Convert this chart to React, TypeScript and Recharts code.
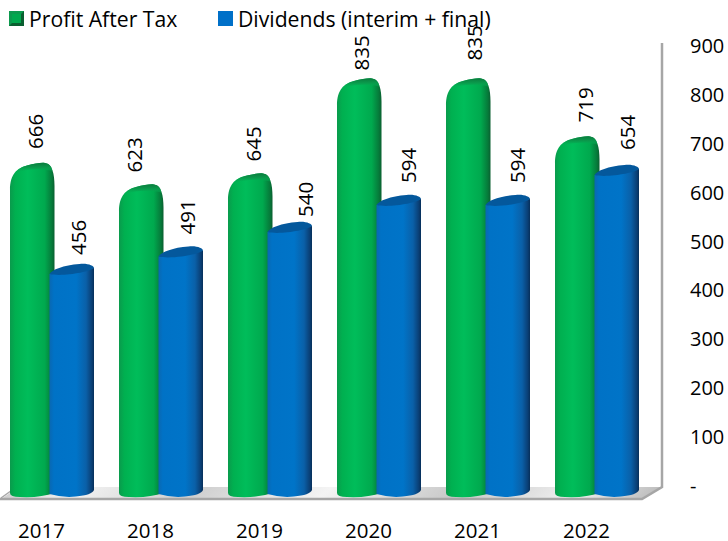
import React from "react";
import { BarChart, Bar, XAxis, YAxis, Legend, LabelList, usePlotArea } from "recharts";

const years = ["2017", "2018", "2019", "2020", "2021", "2022"];
const profit = [666, 623, 645, 835, 835, 719];
const dividends = [456, 491, 540, 594, 594, 654];
const yTicks = [0, 100, 200, 300, 400, 500, 600, 700, 800, 900];
const profitName = "Profit After Tax";
const dividendsName = "Dividends (interim + final)";
const profitLabelGap = [15, 13, 13, 9, 19, 15];
const dividendLabelGap = [14, 17, 10, 17, 17, 20];
const profitLabelShift = [3, -7, 3, 2, 6, 8];
const dividendLabelShift = [6, 6, 15, 9, 9, 10];

const rows = years.map((year, i) => ({ year, profit: profit[i], dividends: dividends[i] }));
const FONT = "'Open Sans', Lato, sans-serif";

function Defs() {
  return (
    <defs>
      <linearGradient id="gSide" x1="0" x2="1" y1="0" y2="0">
        <stop offset="0" stopColor="#0a9a4c" />
        <stop offset="0.12" stopColor="#00b050" />
        <stop offset="0.4" stopColor="#00bd5a" />
        <stop offset="0.78" stopColor="#00a94e" />
        <stop offset="0.94" stopColor="#067a3a" />
        <stop offset="1" stopColor="#0a5f30" />
      </linearGradient>
      <linearGradient id="gTop" x1="0" x2="0" y1="0" y2="1">
        <stop offset="0" stopColor="#0b7c3e" />
        <stop offset="0.45" stopColor="#0a9a4c" />
        <stop offset="1" stopColor="#00b856" stopOpacity="0" />
      </linearGradient>
      <linearGradient id="bSide" x1="0" x2="1" y1="0" y2="0">
        <stop offset="0" stopColor="#0a68b2" />
        <stop offset="0.1" stopColor="#0072c6" />
        <stop offset="0.6" stopColor="#0074c8" />
        <stop offset="0.82" stopColor="#0a60a8" />
        <stop offset="0.95" stopColor="#0a3f75" />
        <stop offset="1" stopColor="#062f5a" />
      </linearGradient>
      <linearGradient id="floorG" x1="0" x2="1" y1="0" y2="0.02">
        <stop offset="0" stopColor="#c9c9c9" />
        <stop offset="0.12" stopColor="#f2f2f2" />
        <stop offset="0.3" stopColor="#cfcfcf" />
        <stop offset="0.5" stopColor="#f4f4f4" />
        <stop offset="0.7" stopColor="#c8c8c8" />
        <stop offset="0.88" stopColor="#f0f0f0" />
        <stop offset="1" stopColor="#bdbdbd" />
      </linearGradient>
    </defs>
  );
}

function Floor() {
  const plot = usePlotArea();
  if (!plot) return null;
  const back = plot.y + plot.height - 10;
  const front = plot.y + plot.height + 2;
  const right = plot.x + plot.width + 11;
  const frontRight = right - 20;
  const left = plot.x;
  return (
    <g>
      <polygon
        points={`${left + 4},${front} ${frontRight},${front} ${right},${back} ${left + 22},${back}`}
        fill="url(#floorG)"
      />
      <polyline points={`${left},${front} ${frontRight},${front} ${right},${back} ${right},${plot.y - 4}`} fill="none" stroke="#a6a6a6" strokeWidth={2.5} />
      <line x1={left + 4} y1={front - 1} x2={left + 18} y2={back + 1} stroke="#a6a6a6" strokeWidth={1.5} />
    </g>
  );
}

function GreenBar(props: any) {
  const { x, y, width, height } = props;
  const b = y + height;
  const r = x + width;
  const outline = `M${x},${b - 4} L${x},${y + 26} C${x},${y + 10} ${x + 7},${y + 4} ${x + 17},${y + 1.5}
    C${x + 25},${y - 0.5} ${x + 31},${y - 1.5} ${x + 35},${y - 1} C${r - 2},${y} ${r},${y + 10} ${r},${y + 22}
    L${r},${b - 4} Q${x + 30},${b + 1} ${x + 10},${b} Q${x},${b} ${x},${b - 4} Z`;
  const cap = `M${x + 5},${y + 9} C${x + 8},${y + 5} ${x + 12},${y + 3} ${x + 17},${y + 1.5} C${x + 25},${y - 0.5} ${x + 31},${y - 1.5} ${x + 35},${y - 1}
    C${r - 4},${y} ${r - 3},${y + 3} ${r - 2},${y + 7} C${x + 30},${y + 4} ${x + 15},${y + 5} ${x + 5},${y + 9} Z`;
  return (
    <g>
      <path d={outline} fill="url(#gSide)" />
      <path d={cap} fill="url(#gTop)" />
    </g>
  );
}

function BlueBar(props: any) {
  const { x, y, width, height } = props;
  const b = y + height;
  const r = x + width;
  const mid = x + width / 2;
  const body = `M${x},${y + 5} L${x},${b - 3} Q${mid - 8},${b + 1} ${mid + 4},${b - 0.5} Q${r - 2},${b - 2} ${r},${b - 7} L${r},${y - 1} Z`;
  const top = `M${x},${y + 5} C${x + 2},${y + 1} ${x + 14},${y - 4} ${x + 30},${y - 5} C${r - 6},${y - 6} ${r},${y - 3} ${r},${y - 1}
    C${r - 4},${y + 3} ${x + 12},${y + 8} ${x},${y + 5} Z`;
  return (
    <g>
      <path d={body} fill="url(#bSide)" />
      <path d={top} fill="#04589c" />
    </g>
  );
}

const rotatedLabel = (gaps: number[], shifts: number[]) => (props: any) => {
  const { x, y, width, index, value } = props;
  const cx = x + width / 2 + shifts[index];
  const by = y - gaps[index];
  return (
    <text
      x={cx}
      y={by}
      transform={`rotate(-90 ${cx} ${by})`}
      dominantBaseline="central"
      textAnchor="start"
      fontFamily={FONT}
      fontSize={20.5}
      fill="#000"
    >
      {value}
    </text>
  );
};

function LegendBox() {
  const items = [
    { label: profitName, color: "#00b050", left: 12, bevel: true },
    { label: dividendsName, color: "#0070c8", left: 221, bevel: false },
  ];
  return (
    <div style={{ position: "relative", height: 30, fontFamily: FONT, fontSize: 21.2, lineHeight: "30px", color: "#000" }}>
      {items.map((it) => (
        <div key={it.label} style={{ position: "absolute", left: it.left, top: 3.5, whiteSpace: "nowrap", display: "flex", alignItems: "center" }}>
          <svg width={15} height={15} style={{ marginRight: 5 }}>
            <rect width={15} height={15} fill={it.color} />
            {it.bevel && <polygon points="0,0 15,0 0,15" fill="#0c9a4e" />}
            {it.bevel && <polygon points="15,0 15,15 0,15" fill="#0a5f30" />}
            {it.bevel && <rect x={3} y={3} width={9} height={9} fill="#00a94e" />}
          </svg>
          <span>{it.label}</span>
        </div>
      ))}
    </div>
  );
}

const yTick = (props: any) => {
  const { x, y, payload } = props;
  return (
    <text x={x} y={y - 1.5} dominantBaseline="central" fontFamily={FONT} fontSize={20} fill="#000">
      {payload.value === 0 ? "-" : payload.value}
    </text>
  );
};

const xTick = (props: any) => {
  const { x, y, payload } = props;
  return (
    <text x={x - 10} y={y} textAnchor="middle" dominantBaseline="central" fontFamily={FONT} fontSize={20.5} fill="#000">
      {payload.value}
    </text>
  );
};

export default function App() {
  return (
    <div style={{ position: "absolute", left: -3, top: 0 }}>
      <BarChart
        width={731}
        height={541}
        data={rows}
        margin={{ top: 17, right: 0, bottom: 0, left: 0 }}
        barSize={44.5}
        barGap={-5}
        style={{ overflow: "visible" }}
      >
        <Defs />
        <Floor />
        <XAxis dataKey="year" axisLine={false} tickLine={false} height={44} tick={xTick} tickMargin={27} interval={0} />
        <YAxis yAxisId="bars" hide width={0} domain={[0, 900]} orientation="right" />
        <YAxis
          yAxisId="scale"
          orientation="right"
          width={77}
          domain={[-20.4, 900]}
          ticks={yTicks}
          axisLine={false}
          tickLine={false}
          tick={yTick}
          tickMargin={33}
          interval={0}
          allowDataOverflow
        />
        <Legend verticalAlign="top" align="left" height={30} content={<LegendBox />} wrapperStyle={{ left: 0, top: 0, width: 731 }} />
        <Bar yAxisId="bars" dataKey="profit" name={profitName} fill="#00b050" shape={<GreenBar />} isAnimationActive={false}>
          <LabelList dataKey="profit" content={rotatedLabel(profitLabelGap, profitLabelShift)} />
        </Bar>
        <Bar yAxisId="bars" dataKey="dividends" name={dividendsName} fill="#0070c8" shape={<BlueBar />} isAnimationActive={false}>
          <LabelList dataKey="dividends" content={rotatedLabel(dividendLabelGap, dividendLabelShift)} />
        </Bar>
      </BarChart>
    </div>
  );
}
